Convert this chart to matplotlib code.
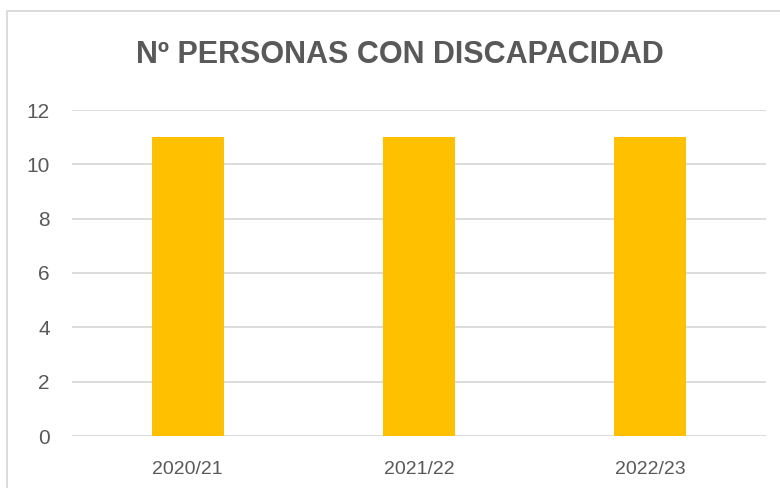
import matplotlib
matplotlib.use("Agg")
import matplotlib.pyplot as plt
from matplotlib.patches import Rectangle

categories = ["2020/21", "2021/22", "2022/23"]
values = [11, 11, 11]
yticks = [0, 2, 4, 6, 8, 10, 12]

font = "Liberation Sans"

fig = plt.figure(figsize=(7.8, 4.88), dpi=100)
fig.patches.append(Rectangle((7/780, -0.1), 1.2, (488-11)/488 + 0.1, transform=fig.transFigure,
                             fill=False, edgecolor="#D9D9D9", linewidth=1.3))
ax = fig.add_axes([72/780, 1-436/488, (766-72)/780, (436-110)/488])
ax.bar(range(len(categories)), values, width=0.31, color="#FFC000", zorder=3)
ax.set_xlim(-0.5, 2.5)
ax.set_ylim(0, 12)
ax.set_yticks(yticks)
ax.set_xticks(range(len(categories)))
ax.set_xticklabels(categories)
ax.yaxis.grid(True, color="#D9D9D9", linewidth=1.3, zorder=0)
for s in ax.spines.values():
    s.set_visible(False)
ax.tick_params(length=0, labelcolor="#595959")
for lab in ax.get_xticklabels():
    lab.set_family(font)
    lab.set_fontsize(14)
for lab in ax.get_yticklabels():
    lab.set_family(font)
    lab.set_fontsize(15)
ax.tick_params(axis="y", pad=16)
ax.tick_params(axis="x", pad=18)
fig.text(400/780, 1-55/488, "Nº PERSONAS CON DISCAPACIDAD", ha="center", va="center",
         fontsize=22, fontweight="bold", color="#595959", family=font)
fig.savefig("out.png", dpi=100)
